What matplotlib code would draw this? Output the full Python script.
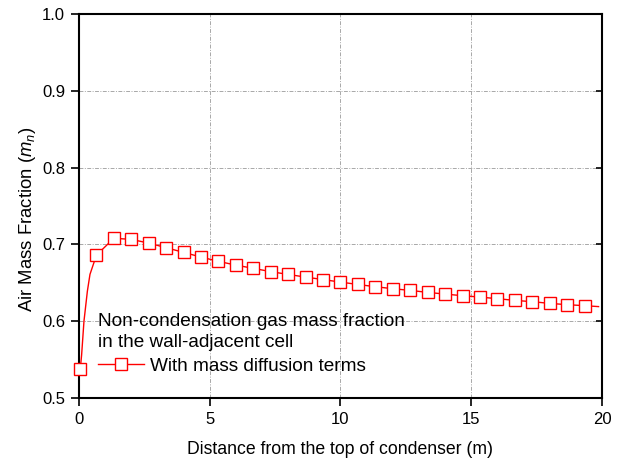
import numpy as np
import matplotlib
matplotlib.use("Agg")
import matplotlib.pyplot as plt

plt.rcParams["font.family"] = ["Liberation Sans", "DejaVu Sans"]
plt.rcParams["mathtext.fontset"] = "custom"
plt.rcParams["mathtext.rm"] = "Liberation Sans"
plt.rcParams["mathtext.it"] = "Liberation Sans:italic"

# distance from top of condenser (m), marker points
dist = [0.05, 0.667, 1.333, 2.0, 2.667, 3.333, 4.0, 4.667, 5.333, 6.0,
        6.667, 7.333, 8.0, 8.667, 9.333, 10.0, 10.667, 11.333, 12.0, 12.667,
        13.333, 14.0, 14.667, 15.333, 16.0, 16.667, 17.333, 18.0, 18.667, 19.333]
air_frac = [0.538, 0.686, 0.708, 0.7065, 0.7017, 0.6957, 0.6896, 0.6835, 0.6779, 0.6730,
            0.6688, 0.6645, 0.6609, 0.6574, 0.6542, 0.6509, 0.6478, 0.6449, 0.6423, 0.6401,
            0.6375, 0.6353, 0.6332, 0.6314, 0.6293, 0.6271, 0.6254, 0.6232, 0.6215, 0.6202]

# extra points (no markers)
curve_x = [0.10, 0.19, 0.32, 0.42]
curve_y = [0.556, 0.600, 0.639, 0.661]
end_x = [19.87]
end_y = [0.619]

line_x = [dist[0]] + curve_x + dist[1:] + end_x
line_y = [air_frac[0]] + curve_y + air_frac[1:] + end_y

fig = plt.figure(figsize=(6.24, 4.63), dpi=100)
ax = fig.add_axes([0.1266, 0.1404, 0.8381, 0.8294])

ax.plot(line_x, line_y, color="red", linewidth=1.0, zorder=2)
ax.plot(dist, air_frac, linestyle="none", marker="s", markersize=8.5,
        markerfacecolor="white", markeredgecolor="red", markeredgewidth=1.0,
        clip_on=False, zorder=3)
# legend proxy
ax.plot([], [], color="red", linewidth=1.0, marker="s", markersize=8.5,
        markerfacecolor="white", markeredgecolor="red", markeredgewidth=1.0,
        label="With mass diffusion terms")

ax.set_xlim(0, 20)
ax.set_ylim(0.5, 1.0)
ax.set_xticks([0, 5, 10, 15, 20])
ax.set_yticks([0.5, 0.6, 0.7, 0.8, 0.9, 1.0])
ax.yaxis.set_major_formatter(matplotlib.ticker.FormatStrFormatter("%.1f"))

ax.grid(True, color="#a8a8a8", linewidth=0.7, dashes=(4, 1.5, 1, 1.5))
ax.set_axisbelow(True)

for sp in ax.spines.values():
    sp.set_linewidth(1.5)
    sp.set_color("black")

ax.tick_params(axis="both", which="major", direction="out", length=6, width=1.2,
               labelsize=12, pad=4)
ax.tick_params(axis="y", right=True, labelright=False)
# right side ticks point inward
for t in ax.yaxis.get_major_ticks():
    t.tick2line.set_marker(matplotlib.markers.TICKLEFT)
    t.tick2line.set_markersize(4)

ax.set_xlabel("Distance from the top of condenser (m)", fontsize=12.7, labelpad=10)
ax.set_ylabel("Air Mass Fraction ($m_n$)", fontsize=13.3, labelpad=4)
ax.yaxis.set_label_coords(-0.078, 0.465)

leg = ax.legend(title="Non-condensation gas mass fraction\nin the wall-adjacent cell",
                loc="lower left", bbox_to_anchor=(0.037, 0.06), frameon=False,
                fontsize=13.7, title_fontsize=13.7, alignment="left",
                handlelength=2.4, handletextpad=0.3, borderpad=0.0,
                borderaxespad=0.0, labelspacing=0.2)
leg.get_title().set_linespacing(1.3)
leg._legend_box.sep = 5

fig.savefig("out.png", dpi=100)
